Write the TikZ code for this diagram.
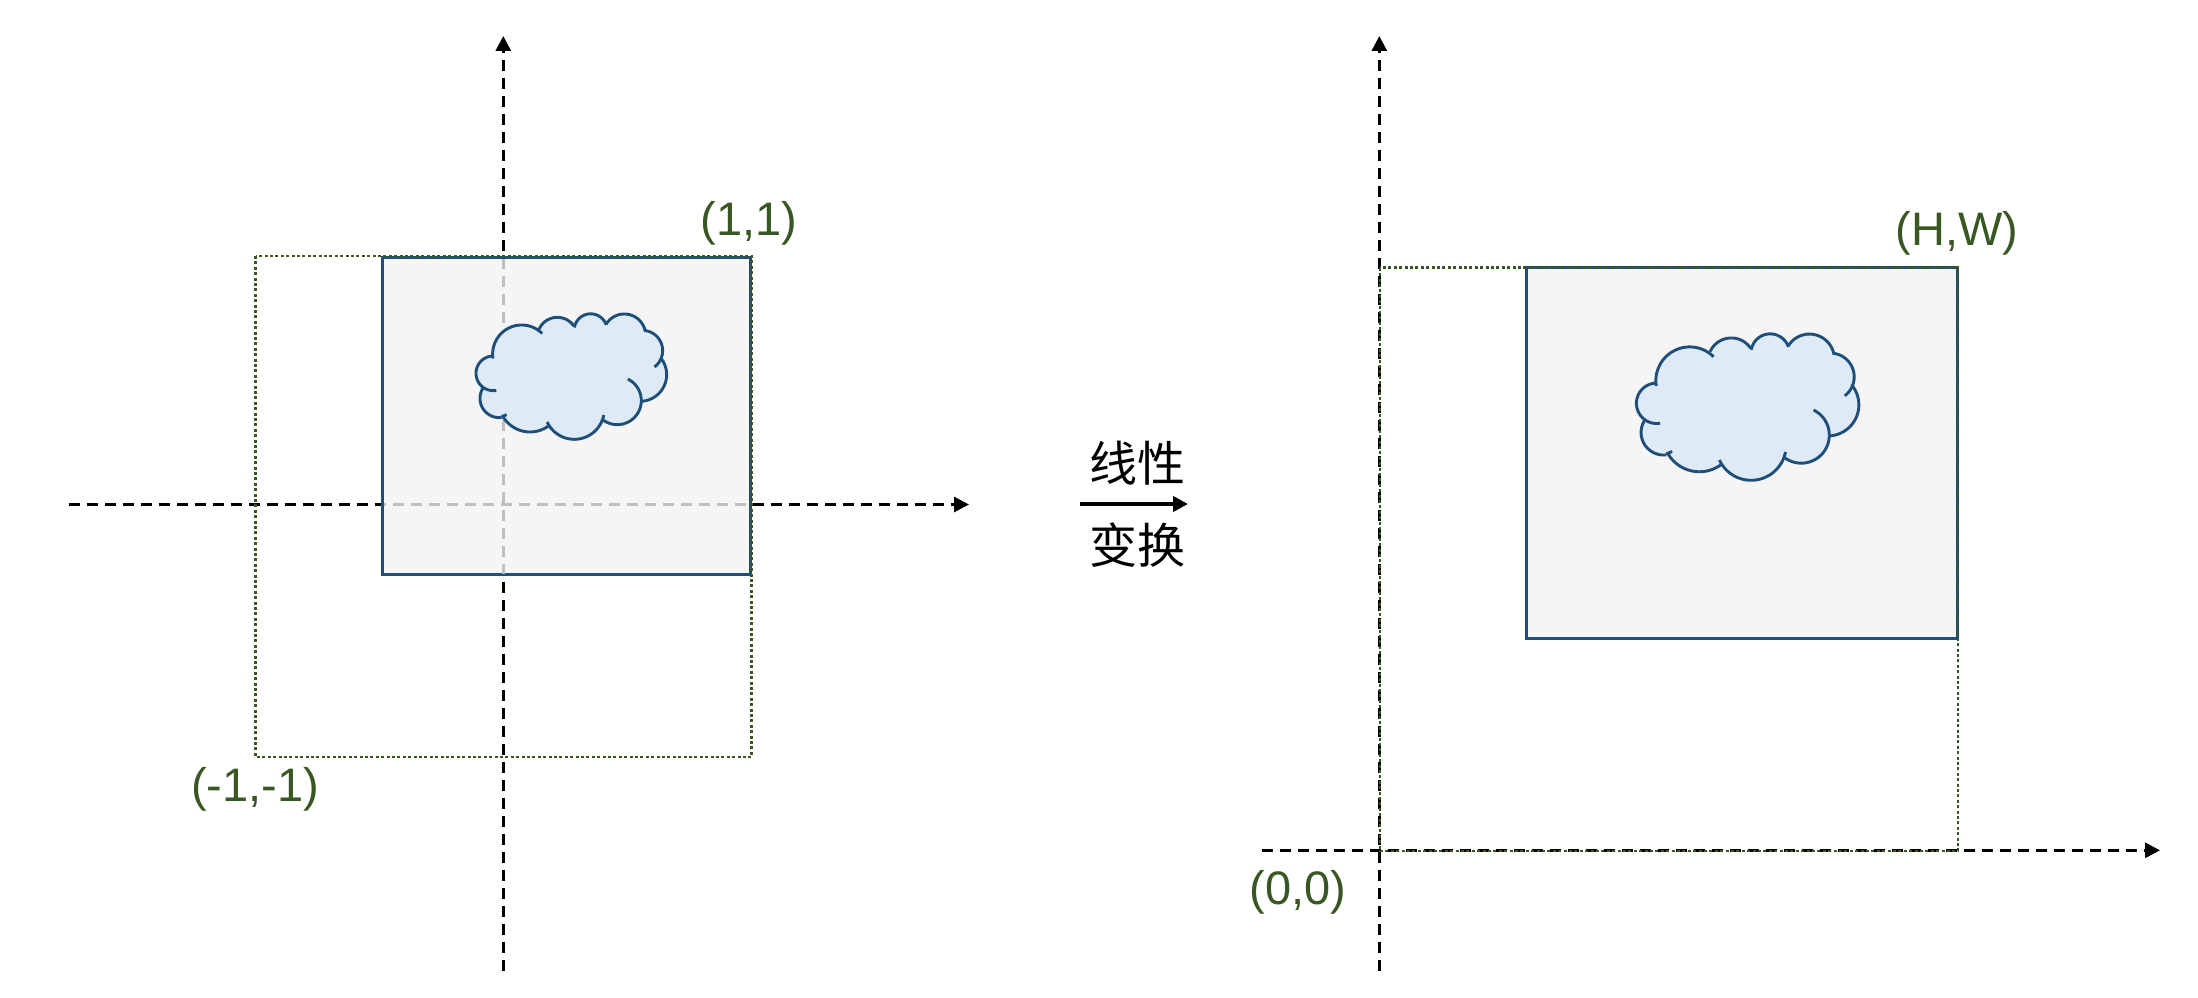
\documentclass[tikz,border=0pt]{standalone}
\usepackage{fontspec}
\setmainfont{Liberation Sans}
\newfontfamily\cjkfam{Noto Sans CJK SC}
\usetikzlibrary{arrows.meta}
\definecolor{labelgreen}{HTML}{385723}
\definecolor{boxblue}{HTML}{1F4E79}
\definecolor{boxfill}{HTML}{F5F5F5}
\definecolor{cloudfill}{HTML}{DEEBF7}
\definecolor{midgray}{HTML}{BFBFBF}
\tikzset{
  axisline/.style={black,line width=3pt,dash pattern=on 11pt off 7pt,-{Triangle[length=15pt,width=15pt]}},
  grayline/.style={midgray,line width=2.8pt,dash pattern=on 11pt off 7pt},
  dotline/.style={labelgreen,line width=2.6pt,dash pattern=on 3pt off 2.4pt},
  canvasbox/.style={draw=boxblue,fill=boxfill,line width=3pt},
  coordlabel/.style={text=labelgreen,font=\fontsize{47}{52}\selectfont,inner sep=0pt},
  cjklabel/.style={text=black,font=\fontsize{48}{54}\selectfont\cjkfam,inner sep=0pt},
  transformarrow/.style={black,line width=4pt,-{Triangle[length=15pt,width=15pt]}},
  cloudline/.style={boxblue,line width=2.9pt}
}
% each lobe: centre x, centre y, radius, start angle, end angle (y grows downward)
\newcommand{\cloudlobes}{%
  \lobe{245}{222}{87}{171}{315}%
  \lobe{352}{172}{60}{204}{325}%
  \lobe{452}{151}{49.5}{190}{341}%
  \lobe{553}{166}{64}{211}{350}%
  \lobe{607}{212}{61}{277}{413}%
  \lobe{600}{284}{80}{-40}{86}%
  \lobe{532}{362}{72}{-64}{126}%
  \lobe{403}{388}{90}{11}{155}%
  \lobe{270}{362}{94}{54}{151}%
  \lobe{178}{355}{58}{216}{83}%
  \lobe{160}{280}{52}{270}{80}%
}
\newcommand{\drawcloud}{%
  \def\lobe##1##2##3##4##5{\fill[cloudfill] (##1,##2) circle[radius=##3];}%
  \cloudlobes
  \fill[cloudfill] (245,222) -- (352,172) -- (452,151) -- (553,166) -- (607,212) -- (600,284) -- (532,362) -- (403,388) -- (270,362) -- (178,355) -- (160,280) -- cycle;
  \def\lobe##1##2##3##4##5{\draw[cloudline] plot[domain=##4:##5,samples=40,smooth] ({##1+##3*cos(\x)},{##2+##3*sin(\x)});}%
  \cloudlobes
  \draw[cloudline] (185,410) -- (200,404);
}
\begin{document}
\begin{tikzpicture}[x=1pt,y=-1pt]
\useasboundingbox (0,0) rectangle (2198,998);
% left panel
\coordinate (LvS) at (503.3,971);
\coordinate (LvE) at (503.3,36);
\coordinate (LhS) at (69,504.5);
\coordinate (LhE) at (969,504.5);
\draw[axisline] (LvS) -- (LvE);
\draw[axisline] (LhS) -- (LhE);
\draw[canvasbox] (382.7,257.7) rectangle (750,574.7);
\begin{scope}
  \clip (384.2,259.2) rectangle (748.5,573.2);
  \draw[grayline] (LvS) -- (LvE);
  \draw[grayline] (LhS) -- (LhE);
\end{scope}
\draw[dotline] (255.7,256) rectangle (751.5,757);
\begin{scope}[shift={(440,280)},scale=0.3333]
  \drawcloud
\end{scope}
\node[coordlabel] (lOne) at (749,223) {(1,1)};
\node[coordlabel] (lMinus) at (255,789) {(-1,-1)};
% centre
\coordinate (MidS) at (1080,504);
\coordinate (MidE) at (1188,504);
\draw[transformarrow] (MidS) -- (MidE);
\node[cjklabel] (tTop) at (1137,463) {线性};
\node[cjklabel] (tBot) at (1137,545) {变换};
% right panel
\coordinate (RvS) at (1379.3,971);
\coordinate (RvE) at (1379.3,36);
\coordinate (RhS) at (1261.7,850.3);
\coordinate (RhE) at (2160,850.3);
\draw[axisline] (RvS) -- (RvE);
\draw[axisline] (RhS) -- (RhE);
\draw[canvasbox] (1526.6,267.7) rectangle (1957,638.5);
\draw[dotline] (1380,267.7) rectangle (1958,851);
\begin{scope}[shift={(1594.4,294.4)},scale=0.3889]
  \drawcloud
\end{scope}
\node[coordlabel] (lHW) at (1957,233) {(H,W)};
\node[coordlabel] (lZero) at (1298,892) {(0,0)};
\end{tikzpicture}
\end{document}
